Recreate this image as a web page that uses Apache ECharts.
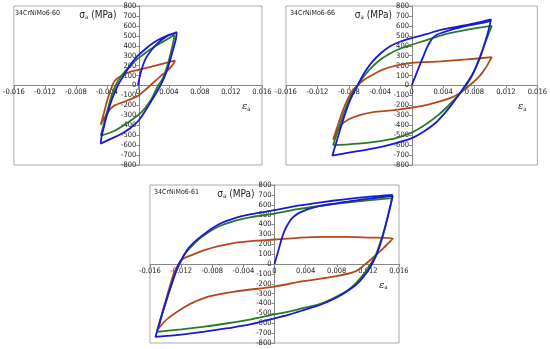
<!DOCTYPE html>
<html>
<head>
<meta charset="utf-8">
<script src="https://cdn.jsdelivr.net/npm/echarts@6/dist/echarts.min.js"></script>
<style>html,body{margin:0;padding:0;background:#fff;}#c{width:550px;height:349px;}</style>
</head>
<body>
<div id="c"></div>
<script>
// ---------- tick labels / panels ----------
const panelTitles = ['34CrNiMo6-60', '34CrNiMo6-66', '34CrNiMo6-61'];
const strainTicks = [-0.016, -0.012, -0.008, -0.004, 0, 0.004, 0.008, 0.012, 0.016];
const stressTicks = [-800, -700, -600, -500, -400, -300, -200, -100, 0, 100, 200, 300, 400, 500, 600, 700, 800];

// ---------- panel 34CrNiMo6-60 ----------
const p60_blue = [
  [0,0],[0.0004,140],[0.001,270],[0.002,380],[0.003,455],[0.004,505],[0.005,535],
  [0.0049,470],[0.0046,380],[0.0042,270],[0.0037,140],[0.0029,0],[0.002,-120],[0.001,-250],[0,-360],[-0.001,-430],[-0.002,-480],[-0.003,-520],[-0.004,-555],[-0.0048,-585],
  [-0.0047,-520],[-0.0044,-420],[-0.004,-300],[-0.0034,-150],[-0.0026,0],[-0.0017,115],[-0.0008,225],[0,300],[0.001,370],[0.002,430],[0.003,475],[0.004,510],[0.005,535]
];
const p60_green = [
  [-0.0048,-505],[-0.0045,-420],[-0.004,-270],[-0.0034,-100],[-0.0029,0],[-0.002,110],[-0.001,200],[0,270],[0.001,330],[0.002,385],[0.003,430],[0.004,475],[0.0047,510],
  [0.0046,450],[0.0043,350],[0.0038,200],[0.0032,70],[0.0026,0],[0.0017,-140],[0.0004,-273],[-0.0013,-373],[-0.003,-455],[-0.0048,-505]
];
const p60_brown = [
  [-0.0048,-395],[-0.0044,-280],[-0.004,-160],[-0.0035,-40],[-0.003,45],[-0.002,105],[-0.001,138],[0,155],[0.001,175],[0.002,195],[0.003,215],[0.004,235],[0.0048,250],
  [0.0044,200],[0.0038,150],[0.003,100],[0.002,30],[0.001,-40],[0,-105],[-0.001,-140],[-0.002,-170],[-0.003,-200],[-0.0036,-240],[-0.0042,-310],[-0.0048,-395]
];

// ---------- panel 34CrNiMo6-66 ----------
const p66_blue = [
  [0,0],[0.0005,100],[0.001,200],[0.0015,295],[0.002,390],[0.0026,470],[0.0032,510],[0.004,535],[0.005,560],[0.006,580],[0.007,600],[0.008,615],[0.009,630],[0.0098,645],[0.0101,665],
  [0.0097,530],[0.0092,400],[0.0087,280],[0.0081,170],[0.0075,80],[0.0069,10],[0.0062,-70],[0.0053,-170],[0.0043,-270],[0.003,-380],[0.0015,-465],[0,-530],[-0.002,-580],[-0.004,-620],[-0.006,-650],[-0.008,-675],[-0.0101,-705],
  [-0.0094,-520],[-0.0087,-340],[-0.0079,-160],[-0.0069,0],[-0.006,130],[-0.005,240],[-0.004,320],[-0.0028,393],[-0.0015,440],[0,477],[0.002,520],[0.0037,560],[0.006,595],[0.008,625],[0.0101,665]
];
const p66_green = [
  [-0.01,-600],[-0.0093,-430],[-0.0085,-250],[-0.0077,-100],[-0.0069,0],[-0.006,100],[-0.005,190],[-0.004,260],[-0.0028,320],[-0.0015,370],[0,410],[0.002,460],[0.004,510],[0.006,545],[0.008,575],[0.0102,600],
  [0.0097,500],[0.0092,395],[0.0087,290],[0.0082,190],[0.0077,100],[0.0071,20],[0.0065,-50],[0.0057,-120],[0.0047,-200],[0.0035,-290],[0.002,-380],[0.001,-430],[0,-475],[-0.002,-530],[-0.004,-560],[-0.006,-580],[-0.008,-592],[-0.01,-600]
];
const p66_brown = [
  [-0.01,-545],[-0.0094,-400],[-0.0088,-260],[-0.0081,-130],[-0.0075,-50],[-0.0069,0],[-0.006,60],[-0.0049,110],[-0.0037,160],[-0.002,200],[0,227],[0.0037,243],[0.007,262],[0.0102,285],
  [0.0096,200],[0.009,130],[0.0084,75],[0.0075,10],[0.0062,-73],[0.005,-125],[0.0037,-157],[0.002,-195],[0,-223],[-0.0025,-250],[-0.0049,-267],[-0.0065,-295],[-0.008,-340],[-0.009,-400],[-0.01,-545]
];

// ---------- panel 34CrNiMo6-61 ----------
const p61_blue = [
  [0,0],[0.0004,110],[0.0008,220],[0.0012,320],[0.0017,400],[0.0022,460],[0.003,510],[0.004,545],[0.005,570],[0.006,590],[0.008,615],[0.01,640],[0.012,660],[0.0152,690],
  [0.0148,560],[0.0143,400],[0.0138,250],[0.0132,110],[0.0126,10],[0.012,-70],[0.011,-170],[0.01,-240],[0.008,-340],[0.006,-410],[0.004,-460],[0.002,-510],[0,-550],[-0.003,-610],[-0.006,-650],[-0.009,-685],[-0.012,-715],[-0.0153,-738],
  [-0.0148,-600],[-0.0142,-440],[-0.0136,-290],[-0.013,-150],[-0.0125,-40],[-0.012,40],[-0.011,165],[-0.0094,282],[-0.0072,400],[-0.0051,465],[-0.003,505],[0,545],[0.003,590],[0.006,625],[0.009,655],[0.012,680],[0.0152,700]
];
const p61_green = [
  [-0.0151,-687],[-0.0146,-550],[-0.014,-400],[-0.0134,-250],[-0.0128,-110],[-0.0122,0],[-0.0116,90],[-0.011,150],[-0.0094,270],[-0.0072,380],[-0.005,440],[-0.003,475],[0,510],[0.003,555],[0.006,590],[0.009,620],[0.012,645],[0.0151,667],
  [0.0147,520],[0.0142,370],[0.0136,220],[0.013,90],[0.0122,-20],[0.0115,-100],[0.0105,-190],[0.0095,-260],[0.008,-330],[0.006,-400],[0.004,-440],[0.002,-480],[0,-510],[-0.003,-560],[-0.006,-600],[-0.009,-635],[-0.012,-662],[-0.0151,-687]
];
const p61_brown = [
  [-0.0149,-653],[-0.0145,-520],[-0.014,-380],[-0.0135,-240],[-0.013,-110],[-0.0124,-10],[-0.0118,50],[-0.0105,95],[-0.009,140],[-0.0072,180],[-0.0051,214],[-0.003,232],[0,248],[0.003,265],[0.006,275],[0.009,275],[0.012,268],[0.0152,258],
  [0.0145,200],[0.0138,146],[0.0126,61],[0.0117,0],[0.0104,-75],[0.0078,-126],[0.0035,-177],[0,-228],[-0.0051,-279],[-0.0085,-330],[-0.0102,-381],[-0.0115,-432],[-0.0137,-551],[-0.0149,-653]
];

const panelData = [
  [p60_brown, p60_green, p60_blue],
  [p66_brown, p66_green, p66_blue],
  [p61_brown, p61_green, p61_blue]
];
const lineColors = ['#b3471d', '#2a7a2a', '#1a1ad0'];

// ---------- layout ----------
const grids = [
  {left: 11, top: 6, width: 251, height: 159},
  {left: 286, top: 6, width: 252, height: 159},
  {left: 150, top: 185, width: 249, height: 158}
];
const FONT = '"Liberation Sans Narrow", "DejaVu Sans Condensed", "Liberation Sans"';

const option = {
  animation: false,
  backgroundColor: '#fff',
  grid: grids.map(g => Object.assign({show: true, borderColor: '#ababab', borderWidth: 1, backgroundColor: 'transparent'}, g)),
  xAxis: grids.map((g, i) => ({
    type: 'value', gridIndex: i, position: 'bottom',
    offset: -g.height / 2,
    min: strainTicks[0], max: strainTicks[strainTicks.length - 1], interval: 0.004,
    axisLine: {onZero: false, lineStyle: {color: '#888', width: 1}},
    axisTick: {show: true, length: 3, lineStyle: {color: '#888'}},
    axisLabel: {fontSize: 7.5, fontFamily: FONT, color: '#222', margin: 3,
      showMinLabel: true, showMaxLabel: true,
      formatter: v => Math.abs(v) < 1e-9 ? '0' : v.toFixed(3)},
    splitLine: {show: false}
  })),
  yAxis: grids.map((g, i) => ({
    type: 'value', gridIndex: i, position: 'left',
    offset: -g.width / 2,
    min: stressTicks[0], max: stressTicks[stressTicks.length - 1], interval: 100,
    axisLine: {onZero: false, lineStyle: {color: '#888', width: 1}},
    axisTick: {show: true, length: 3, lineStyle: {color: '#888'}},
    axisLabel: {fontSize: 7.5, fontFamily: FONT, color: '#222', margin: 3,
      showMinLabel: true, showMaxLabel: true},
    splitLine: {show: false}
  })),
  series: [],
  graphic: []
};

panelData.forEach((loops, i) => {
  loops.forEach((d, k) => {
    option.series.push({
      type: 'line', xAxisIndex: i, yAxisIndex: i, data: d,
      showSymbol: false, symbol: 'none', smooth: 0.3, smoothMonotone: 'none',
      lineStyle: {color: lineColors[k], width: 1.8},
      z: 2 + k
    });
  });
});

grids.forEach((g, i) => {
  const ax = g.left + g.width / 2;
  const ay = g.top + g.height / 2;
  option.graphic.push({
    type: 'text', x: g.left + 4, y: g.top + 7, z: 10,
    style: {text: panelTitles[i], fontSize: 7, fontFamily: FONT, fill: '#222', verticalAlign: 'middle', align: 'left'}
  });
  option.graphic.push({
    type: 'text', x: ax - 20, y: g.top + 9, z: 10,
    style: {
      text: '{g|σ}{s|a}{n| (MPa)}', align: 'right', verticalAlign: 'middle', fill: '#222',
      rich: {
        g: {fontSize: 10, fontFamily: FONT, fill: '#222'},
        s: {fontSize: 6, fontFamily: FONT, fill: '#222', verticalAlign: 'bottom', padding: [5, 0, 0, 0]},
        n: {fontSize: 10, fontFamily: FONT, fill: '#222'}
      }
    }
  });
  option.graphic.push({
    type: 'text', x: g.left + g.width - 20, y: ay + 21, z: 10,
    style: {
      text: '{e|ε}{s|a}', align: 'left', verticalAlign: 'middle', fill: '#222',
      rich: {
        e: {fontSize: 10, fontFamily: 'DejaVu Serif', fontStyle: 'italic', fill: '#222'},
        s: {fontSize: 6, fontFamily: FONT, fill: '#222', verticalAlign: 'bottom', padding: [5, 0, 0, 0]}
      }
    }
  });
});

const chart = echarts.init(document.getElementById('c'), null, {renderer: 'canvas'});
chart.setOption(option);
</script>
</body>
</html>
